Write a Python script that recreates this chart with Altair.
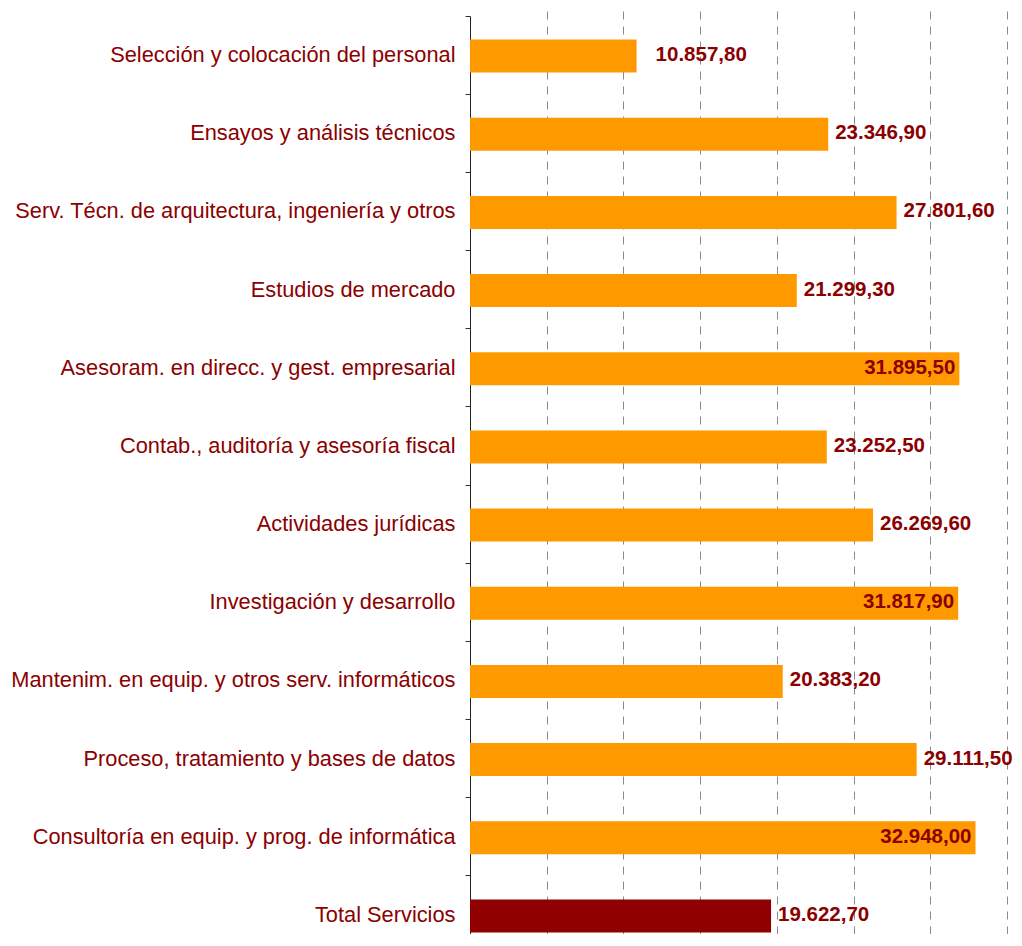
import altair as alt
import pandas as pd

categories = [
    "Selección y colocación del personal",
    "Ensayos y análisis técnicos",
    "Serv. Técn. de arquitectura, ingeniería y otros",
    "Estudios de mercado",
    "Asesoram. en direcc. y gest. empresarial",
    "Contab., auditoría y asesoría fiscal",
    "Actividades jurídicas",
    "Investigación y desarrollo",
    "Mantenim. en equip. y otros serv. informáticos",
    "Proceso, tratamiento y bases de datos",
    "Consultoría en equip. y prog. de informática",
    "Total Servicios",
]
values = [10857.80, 23346.90, 27801.60, 21299.30, 31895.50, 23252.50,
          26269.60, 31817.90, 20383.20, 29111.50, 32948.00, 19622.70]
groups = ["sector"] * 11 + ["total"]


def fmt_es(v):
    s = f"{v:,.2f}"
    return s.replace(",", "X").replace(".", ",").replace("X", ".")


df = pd.DataFrame({
    "cat": categories,
    "value": values,
    "group": groups,
    "label": [fmt_es(v) for v in values],
})

TEXT = "#8B0000"
FONT = "Liberation Sans"

y_enc = alt.Y(
    "cat:N",
    sort=categories,
    title=None,
    scale=alt.Scale(paddingInner=0, paddingOuter=0, range=[0, 938]),
    axis=alt.Axis(
        bandPosition=0,
        tickSize=5,
        tickColor="#333333",
        domain=True,
        domainColor="#222222",
        labelPadding=10,
        labelFont=FONT,
        labelFontSize=21.8,
        labelColor=TEXT,
        labelLimit=0,
        grid=False,
    ),
)

x_enc = alt.X(
    "value:Q",
    title=None,
    scale=alt.Scale(domain=[0, 35000], nice=False, zero=True),
    axis=alt.Axis(
        values=[5000, 10000, 15000, 20000, 25000, 30000, 35000],
        labels=False,
        ticks=False,
        domain=False,
        grid=True,
        gridDash=[8, 7],
        gridColor="#8a8a8a",
        gridWidth=1,
    ),
)

bars = alt.Chart(df).mark_bar(size=33, yOffset=1).encode(
    x=x_enc,
    y=y_enc,
    color=alt.Color(
        "group:N",
        scale=alt.Scale(domain=["sector", "total"], range=["#FF9900", "#900000"]),
        legend=None,
    ),
)

base_text = alt.Chart(df).encode(
    x=alt.X("value:Q"),
    y=alt.Y("cat:N", sort=categories),
    text="label:N",
)

text_first = base_text.transform_filter(
    alt.datum.cat == categories[0]
).mark_text(align="left", baseline="middle", dx=19, font=FONT,
            fontSize=20.5, fontWeight="bold", color=TEXT)

text_out = base_text.transform_filter(
    (alt.datum.value < 30000) & (alt.datum.cat != categories[0])
).mark_text(align="left", baseline="middle", dx=7, font=FONT,
            fontSize=20.5, fontWeight="bold", color=TEXT)

text_in = base_text.transform_filter(
    alt.datum.value >= 30000
).mark_text(align="right", baseline="middle", dx=-4, font=FONT,
            fontSize=20.5, fontWeight="bold", color=TEXT)

chart = (
    alt.layer(bars, text_first, text_out, text_in)
    .properties(
        width=537,
        height=918,
        background="white",
        autosize=alt.AutoSizeParams(type="none"),
        padding={"left": 462, "top": 8, "right": 7, "bottom": 0},
    )
    .configure_view(strokeWidth=0, stroke="transparent")
)

chart.save("out.html", embed_options={"renderer": "svg", "actions": False})
